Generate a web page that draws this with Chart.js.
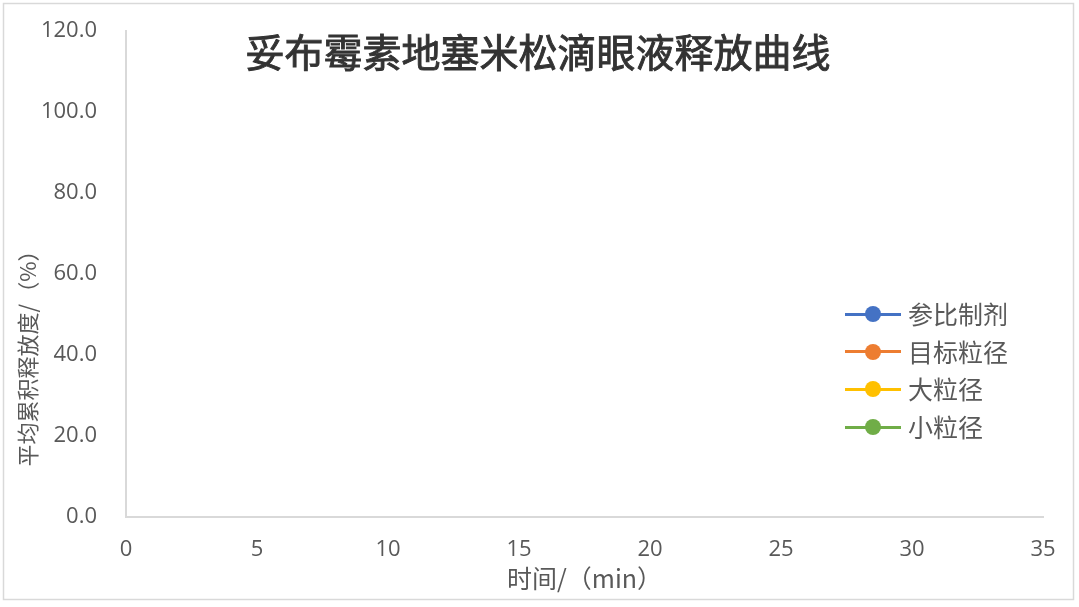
<!DOCTYPE html>
<html>
<head>
<meta charset="utf-8">
<script src="https://cdn.jsdelivr.net/npm/chart.js@4.4.0/dist/chart.umd.min.js"></script>
<style>
  html, body { margin: 0; padding: 0; background: #fff; }
  #wrap { position: relative; width: 1079px; height: 607px; }
  #chart-legend {
    position: absolute; left: 845px; top: 295px;
    font-family: "Noto Sans CJK SC", sans-serif; font-size: 25px; color: #595959;
  }
  #chart-legend .row { position: relative; height: 37.7px; line-height: 37.7px; padding-left: 63px; white-space: nowrap; }
  #chart-legend .line { position: absolute; left: 0; top: 17.5px; width: 56px; height: 3px; }
  #chart-legend .dot { position: absolute; left: 20px; top: 11px; width: 16px; height: 16px; border-radius: 50%; }
</style>
</head>
<body>
<div id="wrap">
  <canvas id="release-chart"></canvas>
  <div id="chart-legend"></div>
</div>
<script>
// Series names and colours (legend order)
var seriesNames = ["参比制剂", "目标粒径", "大粒径", "小粒径"];
var seriesColors = ["#4472C4", "#ED7D31", "#FFC000", "#70AD47"];

// Time (min) / cumulative release (%) -- no data points are visible in the picture
var refData = [];
var targetData = [];
var largeData = [];
var smallData = [];

// Axis ticks
var xTicks = [0, 5, 10, 15, 20, 25, 30, 35];
var yTicks = [0, 20, 40, 60, 80, 100, 120];

var chartTitle = "妥布霉素地塞米松滴眼液释放曲线";
var xTitle = "时间/（min）";
var yTitle = "平均累积释放度/（%）";

var allData = [refData, targetData, largeData, smallData];
var datasets = [];
for (var i = 0; i < seriesNames.length; i++) {
    datasets.push({
        label: seriesNames[i],
        data: allData[i],
        borderColor: seriesColors[i],
        backgroundColor: seriesColors[i],
        borderWidth: 3,
        pointRadius: 5,
        tension: 0
    });
}

// Frame, title and y title drawn on the canvas
var decor = {
    id: 'decor',
    beforeDraw: function (chart) {
        var ctx = chart.ctx;
        ctx.save();
        ctx.fillStyle = '#fff';
        ctx.fillRect(0, 0, chart.width, chart.height);
        ctx.strokeStyle = '#d9d9d9';
        ctx.lineWidth = 1.5;
        ctx.strokeRect(3.5, 3.5, 1070, 596);
        ctx.restore();
    },
    afterDraw: function (chart) {
        var ctx = chart.ctx;
        ctx.save();
        ctx.fillStyle = '#333333';
        ctx.strokeStyle = '#333333';
        ctx.lineWidth = 0.9;
        ctx.font = '39px "Noto Sans CJK SC", sans-serif';
        ctx.textAlign = 'center';
        ctx.textBaseline = 'middle';
        ctx.fillText(chartTitle, 538, 52);
        ctx.strokeText(chartTitle, 538, 52);

        ctx.fillStyle = '#595959';
        ctx.font = '22px "Noto Sans CJK SC", sans-serif';
        ctx.translate(28, 353);
        ctx.rotate(-Math.PI / 2);
        ctx.fillText(yTitle, 0, 0);
        ctx.restore();
    }
};

var config = {
    type: 'line',
    data: { datasets: datasets },
    options: {
        responsive: true,
        maintainAspectRatio: false,
        animation: false,
        devicePixelRatio: 1,
        layout: { padding: { left: 0, top: 31, right: 36, bottom: 0 } },
        plugins: {
            legend: { display: false },
            title: { display: false },
            tooltip: { enabled: false }
        },
        scales: {
            x: {
                type: 'linear',
                min: xTicks[0],
                max: xTicks[xTicks.length - 1],
                afterBuildTicks: function (s) { s.ticks = xTicks.map(function (v) { return { value: v }; }); },
                grid: { display: false, drawTicks: false },
                border: { color: '#d9d9d9', width: 2 },
                ticks: {
                    padding: 20,
                    color: '#595959',
                    font: { family: 'Open Sans', size: 22 },
                    maxRotation: 0
                },
                title: {
                    display: true,
                    text: xTitle,
                    color: '#595959',
                    font: { family: 'Noto Sans CJK SC', size: 25 },
                    padding: { top: 0, bottom: 14 }
                },
                afterFit: function (s) { s.height = 90; s.paddingLeft = 12; s.paddingRight = 12; }
            },
            y: {
                min: yTicks[0],
                max: yTicks[yTicks.length - 1],
                afterBuildTicks: function (s) { s.ticks = yTicks.map(function (v) { return { value: v }; }); },
                grid: { display: false, drawTicks: false },
                border: { color: '#d9d9d9', width: 2 },
                ticks: {
                    padding: 29,
                    color: '#595959',
                    font: { family: 'Open Sans', size: 22 },
                    callback: function (v) { return v.toFixed(1); }
                },
                afterFit: function (s) { s.width = 126; s.paddingTop = 13; s.paddingBottom = 13; }
            }
        }
    },
    plugins: [decor]
};

var myChart = new Chart(document.getElementById('release-chart'), config);

// Legend in its own area so the line + dot markers match the original
var legendHtml = "";
for (var j = 0; j < seriesNames.length; j++) {
    legendHtml += '<div class="row"><span class="line" style="background:' + seriesColors[j] + '"></span>' +
        '<span class="dot" style="background:' + seriesColors[j] + '"></span>' + seriesNames[j] + '</div>';
}
document.getElementById('chart-legend').innerHTML = legendHtml;
</script>
</body>
</html>
